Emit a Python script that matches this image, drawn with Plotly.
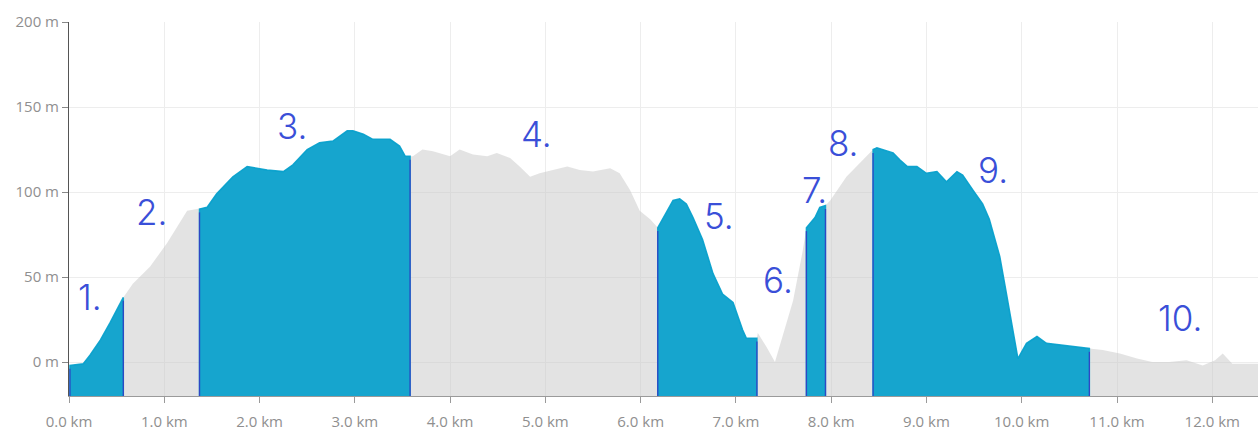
import numpy as np
import plotly.graph_objects as go

# Elevation profile (distance in km, elevation in m)
distance_km = [0.01, 0.15, 0.22, 0.33, 0.43, 0.57, 0.67, 0.85, 1.03, 1.24, 1.37, 1.45, 1.55, 1.72, 1.87,
               2.08, 2.25, 2.35, 2.50, 2.63, 2.77, 2.92, 2.98, 3.09, 3.19, 3.37, 3.47, 3.53, 3.58, 3.61,
               3.71, 3.82, 4.00, 4.10, 4.24, 4.39, 4.49, 4.63, 4.73, 4.84, 4.94, 5.08, 5.23, 5.36, 5.50,
               5.68, 5.78, 5.89, 5.99, 6.10, 6.18, 6.27, 6.34, 6.41, 6.48, 6.55, 6.65, 6.76, 6.86, 6.97,
               7.07, 7.11, 7.22, 7.23, 7.32, 7.41, 7.49, 7.60, 7.70, 7.74, 7.83, 7.88, 7.94, 7.99, 8.16,
               8.30, 8.44, 8.48, 8.58, 8.65, 8.72, 8.80, 8.90, 9.00, 9.11, 9.21, 9.32, 9.38, 9.49, 9.59,
               9.66, 9.77, 9.84, 9.91, 9.96, 10.05, 10.16, 10.26, 10.43, 10.61, 10.71, 10.85, 11.03, 11.21,
               11.37, 11.55, 11.73, 11.90, 12.03, 12.11, 12.21, 12.42, 12.48]
elevation_m = [-2, -1, 4, 13, 23, 38, 46, 56, 70, 89, 90, 91, 99, 109, 115,
               113, 112, 116, 125, 129, 130, 136, 136, 134, 131, 131, 127, 121, 121, 121,
               125, 124, 121, 125, 122, 121, 123, 120, 115, 109, 111, 113, 115, 113, 112,
               114, 111, 101, 89, 84, 79, 88, 95, 96, 93, 85, 72, 52, 40, 35,
               19, 14, 14, 17, 9, 0, 15, 36, 65, 79, 85, 91, 92, 95, 109,
               117, 125, 126, 124, 123, 119, 115, 115, 111, 112, 106, 112, 110, 101, 93,
               84, 62, 40, 17, 2, 11, 15, 11, 10, 9, 8, 7, 5, 2,
               0, 0, 1, -2, 1, 5, -1, -1, -1]

# Hand-coloured sections (start km, end km)
section_start_km = [0.01, 1.37, 6.18, 7.74, 8.44]
section_end_km = [0.57, 3.58, 7.22, 7.94, 10.71]

# Handwritten section numbers and where they were written
label_text = ["1.", "2.", "3.", "4.", "5.", "6.", "7.", "8.", "9.", "10."]
label_km = [0.22, 0.87, 2.34, 4.91, 6.82, 7.44, 7.83, 8.13, 9.70, 11.66]
label_m = [38, 88, 139, 134, 86, 48, 101, 129, 113, 26]

# Axis ticks
y_tick_vals = [0, 50, 100, 150, 200]
y_tick_text = ["0 m", "50 m", "100 m", "150 m", "200 m"]
x_tick_vals = list(range(0, 13))
x_tick_text = [f"{v:.1f} km" for v in x_tick_vals]

Y_BASE = -20
GREY = "rgba(200,200,200,0.5)"
BLUE = "rgba(6,160,204,0.93)"
PEN = "#2f47c4"
INK = "#3a4fd8"

d = np.array(distance_km)
e = np.array(elevation_m)

fig = go.Figure()

# whole profile in grey
fig.add_trace(go.Scatter(
    x=[d[0]] + list(d) + [d[-1]],
    y=[Y_BASE] + list(e) + [Y_BASE],
    fill="toself", fillcolor=GREY, mode="lines",
    line=dict(width=0, color=GREY), hoverinfo="skip", showlegend=False))

# coloured sections
edge_x, edge_y = [], []
for s, t in zip(section_start_km, section_end_km):
    m = (d >= s - 1e-9) & (d <= t + 1e-9)
    xs, ys = list(d[m]), list(e[m])
    fig.add_trace(go.Scatter(
        x=[xs[0]] + xs + [xs[-1]],
        y=[Y_BASE] + ys + [Y_BASE],
        fill="toself", fillcolor=BLUE, mode="lines",
        line=dict(width=1.5, color=BLUE), hoverinfo="skip", showlegend=False))
    for b in (s, t):
        edge_x += [b, b, None]
        edge_y += [Y_BASE, float(np.interp(b, d, e)) - 2, None]

fig.add_trace(go.Scatter(x=edge_x, y=edge_y, mode="lines",
                         line=dict(width=1.3, color=PEN),
                         hoverinfo="skip", showlegend=False))

for txt, xk, ym in zip(label_text, label_km, label_m):
    fig.add_annotation(x=xk, y=ym, text=txt, showarrow=False,
                       font=dict(family="Inter, DejaVu Sans", size=35, color=INK, weight=300))

axis_font = dict(family="Open Sans", size=15, color="#8f8f8f")
fig.update_xaxes(range=[0, 12.48], tickvals=x_tick_vals, ticktext=x_tick_text,
                 showgrid=True, gridcolor="#ededed", gridwidth=1, zeroline=False,
                 showline=True, linecolor="#9a9a9a", linewidth=1,
                 ticks="outside", ticklen=6, tickcolor="#9a9a9a",
                 ticklabelstandoff=6, tickfont=axis_font, fixedrange=True)
fig.update_yaxes(range=[Y_BASE, 200], tickvals=y_tick_vals, ticktext=y_tick_text,
                 showgrid=True, gridcolor="#ededed", gridwidth=1, zeroline=False,
                 showline=True, linecolor="#555555", linewidth=1,
                 ticks="outside", ticklen=6, tickcolor="#888888",
                 tickfont=axis_font, fixedrange=True)

fig.update_layout(width=1258, height=434,
                  margin=dict(l=69, r=0, t=22, b=38, autoexpand=False),
                  paper_bgcolor="white", plot_bgcolor="white")

fig.write_html("out.html", config={"displayModeBar": False},
               post_script="document.body.style.margin='0';document.body.style.overflow='hidden';")
